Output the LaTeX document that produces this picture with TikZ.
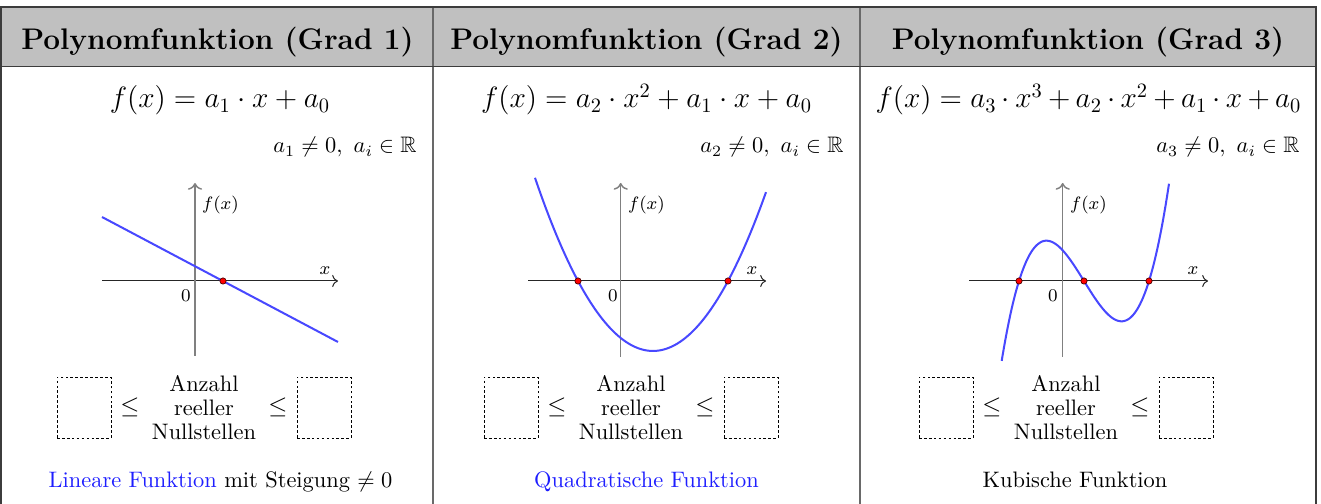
\documentclass[tikz,border=0pt]{standalone}
\usepackage{graphicx}
\usepackage{amssymb}
\usetikzlibrary{arrows.meta}
\definecolor{hdrgray}{RGB}{192,192,192}
\definecolor{fnblue}{RGB}{72,72,255}
\definecolor{txtblue}{RGB}{30,30,255}
\definecolor{tblline}{RGB}{60,60,60}
\definecolor{sepline}{RGB}{105,105,105}
\newcommand\countrow[2]{%
  \node[dbox] (#2L) at ({#1-120},407.5) {};
  \node[rel] (#2le1) at ({#1-74},407) {$\le$};
  \node[cnt] (#2T) at (#1,408) {Anzahl\\reeller\\Nullstellen};
  \node[rel] (#2le2) at ({#1+74},407) {$\le$};
  \node[dbox] (#2R) at ({#1+120},407.5) {};
}
\newcommand\fml[1]{\scalebox{0.911}{#1}}
\begin{document}
\begin{tikzpicture}[x=0.4464pt,y=-0.4464pt,
  hdr/.style={font=\fontsize{13.3}{15}\selectfont\bfseries, anchor=base, inner sep=0pt},
  formula/.style={font=\Large, anchor=base, inner sep=0pt},
  cond/.style={font=\fontsize{10}{12}\selectfont, anchor=base east, inner sep=0pt},
  tbl/.style={draw=tblline, line width=0.6pt},
  sep/.style={draw=sepline, line width=0.6pt},
  xaxis/.style={draw=black!85, line width=0.45pt, ->},
  yaxis/.style={draw=black!50, line width=0.65pt, ->},
  fn/.style={draw=fnblue, line width=0.9pt},
  root/.style={circle, fill=red, draw=black!70!red, line width=0.3pt, inner sep=0pt, minimum size=2.8pt},
  lbl/.style={font=\fontsize{8.5}{10}\selectfont, inner sep=0pt},
  dbox/.style={draw=black, line width=0.4pt, dash pattern=on 1.2pt off 1pt, minimum width=24.1pt, minimum height=27.2pt, inner sep=0pt},
  rel/.style={font=\fontsize{11}{13}\selectfont, inner sep=0pt},
  cnt/.style={font=\fontsize{10}{10.7}\selectfont, align=center, inner sep=0pt},
  bottom/.style={font=\fontsize{10}{12}\selectfont, anchor=base, inner sep=0pt}
]
\useasboundingbox (0,0) rectangle (1321,504);
% table
\fill[hdrgray] (1,7) rectangle (1316,66.7);
\draw[sep] (433,7) -- (433,504);
\draw[sep] (860,7) -- (860,504);
\draw[tbl] (1,504) -- (1,7) -- (1316,7) -- (1316,504);
\draw[tbl] (1,66.7) -- (1316,66.7);
% headers
\node[hdr] (h1) at (217.5,50) {Polynomfunktion (Grad 1)};
\node[hdr] (h2) at (646.5,50) {Polynomfunktion (Grad 2)};
\node[hdr] (h3) at (1088,50) {Polynomfunktion (Grad 3)};
% formulas
\node[formula] (f1) at (220,108) {\fml{$f(x) = a_1\cdot x + a_0$}};
\node[formula] (f2) at (646.5,108) {\fml{$f(x) = a_2\cdot x^2 + a_1\cdot x + a_0$}};
\node[formula] (f3) at (1088.5,108) {\fml{\medmuskip=3.2mu\relax$f(x) = a_3\cdot x^3 + a_2\cdot x^2 + a_1\cdot x + a_0$}};
\node[cond] (c1) at (417,153) {$a_1\neq 0,\ a_i\in\mathbb{R}$};
\node[cond] (c2) at (844,153) {$a_2\neq 0,\ a_i\in\mathbb{R}$};
\node[cond] (c3) at (1300,153) {$a_3\neq 0,\ a_i\in\mathbb{R}$};
% graph 1
\coordinate (xa1) at (102,281); \coordinate (xb1) at (338,281);
\coordinate (ya1) at (195,356); \coordinate (yb1) at (195,183);
\draw[xaxis] (xa1) -- (xb1);
\draw[yaxis] (ya1) -- (yb1);
\coordinate (p1a) at (102,217); \coordinate (p1b) at (338,342);
\draw[fn] (p1a) -- (p1b);
\node[root] (r11) at (223,281) {};
\node[lbl] (fx1) at (220.5,205) {$f(x)$};
\node[lbl] (x1) at (325,271) {$x$};
\node[lbl] (z1) at (186,296) {$0$};
% graph 2
\coordinate (xa2) at (528,281); \coordinate (xb2) at (766,281);
\coordinate (ya2) at (620.7,357); \coordinate (yb2) at (620.7,183);
\draw[xaxis] (xa2) -- (xb2);
\draw[yaxis] (ya2) -- (yb2);
\draw[fn] plot[domain=535:766, samples=120, smooth] (\x, {281-0.01244*(\x-578)*(\x-728)});
\node[root] (r21) at (578,281) {};
\node[root] (r22) at (728,281) {};
\node[lbl] (fx2) at (646.5,205) {$f(x)$};
\node[lbl] (x2) at (752,271) {$x$};
\node[lbl] (z2) at (613,296) {$0$};
% graph 3
\coordinate (xa3) at (969,281); \coordinate (xb3) at (1208,281);
\coordinate (ya3) at (1062.7,357); \coordinate (yb3) at (1062.7,183);
\draw[xaxis] (xa3) -- (xb3);
\draw[yaxis] (ya3) -- (yb3);
\draw[fn] plot[domain=1001.7:1169, samples=150, smooth] (\x, {281-0.0003785*(\x-1019)*(\x-1084)*(\x-1149)});
\node[root] (r31) at (1019,281) {};
\node[root] (r32) at (1084,281) {};
\node[root] (r33) at (1149,281) {};
\node[lbl] (fx3) at (1088.5,205) {$f(x)$};
\node[lbl] (x3) at (1193,271) {$x$};
\node[lbl] (z3) at (1053,296) {$0$};
% count rows
\countrow{204}{a}
\countrow{631}{b}
\countrow{1066}{c}
% bottom texts
\node[bottom] (b1) at (220.5,488) {\textcolor{txtblue}{Lineare Funktion} mit Steigung $\neq 0$};
\node[bottom] (b2) at (646.5,488) {\textcolor{txtblue}{Quadratische Funktion}};
\node[bottom] (b3) at (1075,488) {Kubische Funktion};
\end{tikzpicture}
\end{document}
